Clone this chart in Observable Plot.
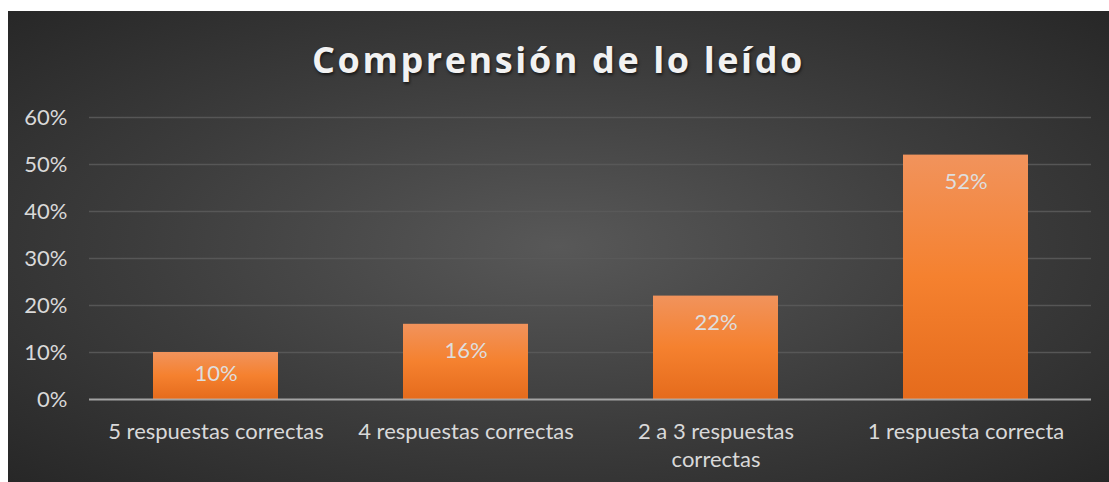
<!DOCTYPE html>
<html>
<head>
<meta charset="utf-8">
<script src="https://cdn.jsdelivr.net/npm/d3@7"></script>
<script src="https://cdn.jsdelivr.net/npm/@observablehq/plot@0.6"></script>
<style>
  html, body { margin: 0; padding: 0; background: #ffffff; }
  #panel {
    position: absolute; left: 8px; top: 11px; width: 1101px; height: 471px;
    background: radial-gradient(ellipse at 50% 50%, #585858 0%, #3c3c3c 55%, #272727 100%);
    overflow: hidden;
  }
  #title {
    height: 90px; line-height: 98px; text-align: center;
    font-family: "Open Sans", sans-serif; font-weight: 700; font-size: 36px;
    letter-spacing: 2.6px; color: #f2f2f2;
    text-shadow: 1px 2px 3px rgba(0,0,0,0.6);
  }
  #chart svg { display: block; }
</style>
</head>
<body>
<div id="panel">
  <div id="title">Comprensión de lo leído</div>
  <div id="chart"></div>
</div>
<script>
const categories = ["5 respuestas correctas", "4 respuestas correctas", "2 a 3 respuestas correctas", "1 respuesta correcta"];
const tickLabels = ["5 respuestas correctas", "4 respuestas correctas", "2 a 3 respuestas\ncorrectas", "1 respuesta correcta"];
const values = [0.10, 0.16, 0.22, 0.52];
const yTicks = [0, 0.1, 0.2, 0.3, 0.4, 0.5, 0.6];

const data = categories.map((c, i) => ({category: c, value: values[i]}));
const pct = d3.format(".0%");

const chart = Plot.plot({
  width: 1101,
  height: 381,
  marginTop: 16,
  marginBottom: 83,
  marginLeft: 81,
  marginRight: 18,
  style: {fontFamily: "Lato, sans-serif", fontSize: "22px", color: "#d9d9d9", background: "transparent", overflow: "visible"},
  x: {domain: categories, paddingInner: 0.5, paddingOuter: 0.25, label: null},
  y: {domain: [0, 0.6], label: null},
  marks: [
    Plot.gridY(yTicks, {stroke: "#5a5a5a", strokeOpacity: 0.9, strokeWidth: 1.5}),
    Plot.barY(data, {x: "category", y: "value", fill: "url(#barGrad)", style: "filter: drop-shadow(0px 0px 3px rgba(0,0,0,0.5))"}),
    Plot.ruleY([0], {stroke: "#bdbdbd", strokeOpacity: 0.75, strokeWidth: 1.8}),
    Plot.text(data.filter(d => d.value >= 0.15), {x: "category", y: "value", text: d => pct(d.value), dy: 27, fill: "#dedede", fontSize: 22}),
    Plot.text(data.filter(d => d.value < 0.15), {x: "category", y: d => d.value / 2, text: d => pct(d.value), dy: -2, fill: "#dedede", fontSize: 22}),
    Plot.axisY(yTicks, {tickSize: 0, tickPadding: 22, tickFormat: pct, label: null}),
    Plot.axisX({tickSize: 0, tickPadding: 20, lineHeight: 1.27, tickFormat: d => tickLabels[categories.indexOf(d)], label: null})
  ]
});

const svg = d3.select(chart);
const defs = svg.insert("defs", ":first-child");
const g = defs.append("linearGradient").attr("id", "barGrad").attr("x1", 0).attr("y1", 0).attr("x2", 0).attr("y2", 1);
g.append("stop").attr("offset", "0%").attr("stop-color", "#f1935c");
g.append("stop").attr("offset", "50%").attr("stop-color", "#f5812f");
g.append("stop").attr("offset", "100%").attr("stop-color", "#e56b1c");

document.getElementById("chart").appendChild(chart);
</script>
</body>
</html>
